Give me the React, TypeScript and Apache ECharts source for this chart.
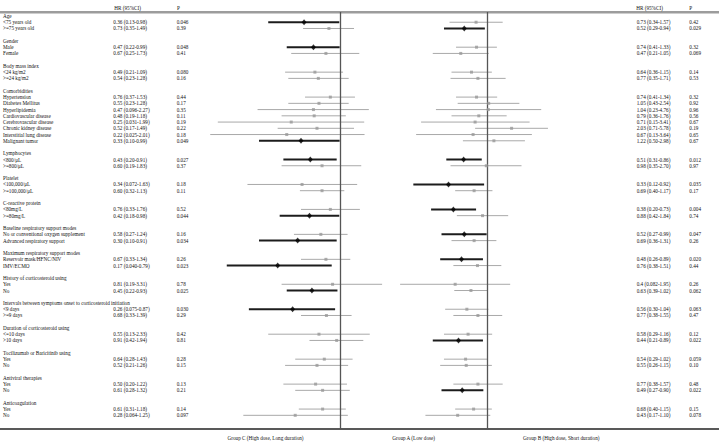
import React, { useEffect, useRef } from "react";
import * as echarts from "echarts";

const groupNames: string[] = [
  "Age",
  "Gender",
  "Body mass index",
  "Comorbidities",
  "Lymphocytes",
  "Platelet",
  "C-reactive protein",
  "Baseline respiratory support modes",
  "Maximum respiratory support modes",
  "History of corticosteroid using",
  "Intervals between symptoms onset to corticosteroid initiation",
  "Duration of corticosteroid using",
  "Tocilizumab or Baricitinib using",
  "Antiviral therapies",
  "Anticoagulation",
];

const subgroupNames: string[][] = [
  ["<75 years old", ">=75 years old"],
  ["Male", "Female"],
  ["<24 kg/m2", ">=24 kg/m2"],
  [
    "Hypertension",
    "Diabetes Mellitus",
    "Hyperlipidemia",
    "Cardiovascular disease",
    "Cerebrovascular disease",
    "Chronic kidney disease",
    "Interstitial lung disease",
    "Malignant tumor",
  ],
  ["<800/μL", ">=800/μL"],
  ["<100,000/μL", ">=100,000/μL"],
  ["<80mg/L", ">=80mg/L"],
  ["No or conventional oxygen supplement", "Advanced respiratory support"],
  ["Reservoir mask/HFNC/NIV", "IMV/ECMO"],
  ["Yes", "No"],
  ["<9 days", ">=9 days"],
  ["<=10 days", ">10 days"],
  ["Yes", "No"],
  ["Yes", "No"],
  ["Yes", "No"],
];

// Group C (High dose, Long duration) vs Group A
const groupC_HR: string[] = [
  "0.36 (0.13-0.98)", "0.73 (0.35-1.49)",
  "0.47 (0.22-0.99)", "0.67 (0.25-1.73)",
  "0.49 (0.21-1.09)", "0.54 (0.23-1.28)",
  "0.76 (0.37-1.53)", "0.55 (0.23-1.28)", "0.47 (0.096-2.27)", "0.48 (0.19-1.18)",
  "0.25 (0.031-1.99)", "0.52 (0.17-1.49)", "0.22 (0.025-2.01)", "0.33 (0.10-0.99)",
  "0.43 (0.20-0.91)", "0.60 (0.19-1.83)",
  "0.34 (0.072-1.63)", "0.60 (0.32-1.13)",
  "0.76 (0.33-1.76)", "0.42 (0.18-0.98)",
  "0.58 (0.27-1.24)", "0.30 (0.10-0.91)",
  "0.67 (0.33-1.34)", "0.17 (0.040-0.79)",
  "0.81 (0.19-3.31)", "0.45 (0.22-0.93)",
  "0.26 (0.075-0.87)", "0.68 (0.33-1.39)",
  "0.55 (0.13-2.33)", "0.91 (0.42-1.94)",
  "0.64 (0.28-1.43)", "0.52 (0.21-1.26)",
  "0.50 (0.20-1.22)", "0.61 (0.28-1.32)",
  "0.61 (0.31-1.18)", "0.28 (0.064-1.25)",
];
const groupC_P: string[] = [
  "0.046", "0.39",
  "0.048", "0.41",
  "0.080", "0.16",
  "0.44", "0.17", "0.35", "0.11", "0.19", "0.22", "0.18", "0.049",
  "0.027", "0.37",
  "0.18", "0.11",
  "0.52", "0.044",
  "0.16", "0.034",
  "0.26", "0.023",
  "0.78", "0.025",
  "0.030", "0.29",
  "0.42", "0.81",
  "0.28", "0.15",
  "0.13", "0.21",
  "0.14", "0.097",
];

// Group B (High dose, Short duration) vs Group A
const groupB_HR: string[] = [
  "0.73 (0.34-1.57)", "0.52 (0.29-0.94)",
  "0.74 (0.41-1.33)", "0.47 (0.21-1.05)",
  "0.64 (0.36-1.15)", "0.77 (0.35-1.71)",
  "0.74 (0.41-1.34)", "1.05 (0.43-2.54)", "1.04 (0.23-4.76)", "0.79 (0.36-1.76)",
  "0.71 (0.15-3.41)", "2.03 (0.71-5.78)", "0.67 (0.13-3.64)", "1.22 (0.50-2.98)",
  "0.51 (0.31-0.86)", "0.98 (0.35-2.70)",
  "0.33 (0.12-0.92)", "0.69 (0.40-1.17)",
  "0.38 (0.20-0.73)", "0.88 (0.42-1.84)",
  "0.52 (0.27-0.99)", "0.69 (0.36-1.31)",
  "0.48 (0.26-0.89)", "0.76 (0.38-1.51)",
  "0.4 (0.082-1.95)", "0.63 (0.39-1.02)",
  "0.56 (0.30-1.04)", "0.77 (0.38-1.55)",
  "0.58 (0.29-1.16)", "0.44 (0.21-0.89)",
  "0.54 (0.29-1.02)", "0.55 (0.26-1.15)",
  "0.77 (0.38-1.57)", "0.49 (0.27-0.90)",
  "0.68 (0.40-1.15)", "0.43 (0.17-1.10)",
];
const groupB_P: string[] = [
  "0.42", "0.029",
  "0.32", "0.069",
  "0.14", "0.53",
  "0.32", "0.92", "0.96", "0.56", "0.67", "0.19", "0.65", "0.67",
  "0.012", "0.97",
  "0.035", "0.17",
  "0.004", "0.74",
  "0.047", "0.26",
  "0.020", "0.44",
  "0.26", "0.062",
  "0.063", "0.47",
  "0.12", "0.022",
  "0.059", "0.10",
  "0.48", "0.022",
  "0.15", "0.078",
];

const headerHR = "HR (95%CI)";
const headerP = "P";
const groupLabels = [
  "Group C (High dose, Long duration)",
  "Group A (Low dose)",
  "Group B (High dose, Short duration)",
];

type Row = { slot: number; label: string; header: boolean; idx: number };

function buildRows(): Row[] {
  const rows: Row[] = [];
  let slot = 0;
  let k = 0;
  groupNames.forEach((g, gi) => {
    rows.push({ slot: slot++, label: g, header: true, idx: -1 });
    subgroupNames[gi].forEach((s) => {
      rows.push({ slot: slot++, label: s, header: false, idx: k++ });
    });
    slot++;
  });
  return rows;
}

function parseHR(s: string): number[] {
  const m = s.match(/^([\d.]+) \(([\d.]+)-([\d.]+)\)$/);
  if (!m) return [NaN, NaN, NaN];
  return [parseFloat(m[1]), parseFloat(m[2]), parseFloat(m[3])];
}

const FONT = "'Liberation Serif', 'Times New Roman', serif";
const FS = 5.2;
const TEXT_COLOR = "#111";

export default function App() {
  const ref = useRef<HTMLDivElement>(null);

  useEffect(() => {
    if (!ref.current) return;
    const chart = echarts.init(ref.current, null, { renderer: "svg" });
    const rows = buildRows();
    const dataRows = rows.filter((r) => !r.header);

    const yMin = -0.65;
    const yMax = 66.2;
    const gridTop = 11.94;
    const gridHeight = 417.1;

    const makeCI = (hrs: string[], ps: string[], gi: number) => ({
      type: "custom",
      xAxisIndex: gi,
      yAxisIndex: gi,
      silent: true,
      clip: false,
      encode: { x: [0, 1], y: 2 },
      data: dataRows.map((r) => {
        const v = parseHR(hrs[r.idx]);
        return [v[1], v[2], r.slot, parseFloat(ps[r.idx]) < 0.05 ? 1 : 0];
      }),
      renderItem: (_p: any, api: any) => {
        const a = api.coord([api.value(0), api.value(2)]);
        const b = api.coord([api.value(1), api.value(2)]);
        const sig = api.value(3) === 1;
        return {
          type: "line",
          shape: { x1: a[0], y1: a[1], x2: b[0], y2: b[1] },
          style: { stroke: sig ? "#1c1c1c" : "#a9a9a9", lineWidth: sig ? 2 : 1 },
        };
      },
    });

    const makePoints = (hrs: string[], ps: string[], gi: number, sig: boolean) => ({
      type: "scatter",
      xAxisIndex: gi,
      yAxisIndex: gi,
      silent: true,
      symbol: sig ? "diamond" : "rect",
      symbolSize: sig ? [5, 6] : 3,
      itemStyle: { color: sig ? "#000" : "#9a9a9a" },
      z: 5,
      data: dataRows
        .filter((r) => (parseFloat(ps[r.idx]) < 0.05) === sig)
        .map((r) => [parseHR(hrs[r.idx])[0], r.slot]),
      markLine: sig
        ? {
            silent: true,
            symbol: ["none", "none"],
            label: { show: false },
            lineStyle: { color: "#555", width: 1.3, type: "solid" },
            data: [{ xAxis: 1 }],
          }
        : undefined,
    });

    const txt = (text: string, x: number, y: number, align = "left") => ({
      type: "text",
      x,
      y,
      style: {
        text,
        fill: TEXT_COLOR,
        fontSize: FS,
        fontFamily: FONT,
        align,
        verticalAlign: "middle",
      },
    });

    const makeText = (gi: number, cols: (r: Row) => any[]) => ({
      type: "custom",
      xAxisIndex: gi,
      yAxisIndex: gi,
      silent: true,
      clip: false,
      encode: { x: 0, y: 1 },
      data: rows.map((r) => [1, r.slot]),
      renderItem: (p: any, api: any) => {
        const r = rows[p.dataIndex];
        const y = api.coord([1, api.value(1)])[1];
        return { type: "group", children: cols(r).map((c) => txt(c[0], c[1], y)) };
      },
    });

    const leftText = makeText(0, (r) =>
      r.header
        ? [[r.label, 3]]
        : [
            [r.label, 3],
            [groupC_HR[r.idx], 113.3],
            [groupC_P[r.idx], 176.7],
          ]
    );
    const rightText = makeText(1, (r) =>
      r.header
        ? []
        : [
            [groupB_HR[r.idx], 636.7],
            [groupB_P[r.idx], 689.3],
          ]
    );

    const axisHidden = {
      axisLine: { show: false },
      axisTick: { show: false },
      axisLabel: { show: false },
      splitLine: { show: false },
    };

    chart.setOption({
      animation: false,
      grid: [
        { left: 178, width: 243, top: gridTop, height: gridHeight },
        { left: 327, width: 240, top: gridTop, height: gridHeight },
      ],
      xAxis: [
        { type: "log", logBase: 10, min: 0.01, max: 10, gridIndex: 0, ...axisHidden },
        { type: "log", logBase: 10, min: 0.01, max: 10, gridIndex: 1, ...axisHidden },
      ],
      yAxis: [
        { type: "value", inverse: true, min: yMin, max: yMax, gridIndex: 0, ...axisHidden },
        { type: "value", inverse: true, min: yMin, max: yMax, gridIndex: 1, ...axisHidden },
      ],
      graphic: [
        {
          type: "line",
          shape: { x1: 0, y1: 12.2, x2: 719, y2: 12.2 },
          style: { stroke: "#9c9c9c", lineWidth: 2.4 },
          silent: true,
        },
        {
          type: "line",
          shape: { x1: 0, y1: 429, x2: 719, y2: 429 },
          style: { stroke: "#222", lineWidth: 1.5 },
          silent: true,
        },
        txt(headerHR, 114.3, 8),
        txt(headerP, 177, 8),
        txt(headerHR, 636.2, 8),
        txt(headerP, 689.3, 8),
        txt(groupLabels[0], 265.5, 438, "center"),
        txt(groupLabels[1], 413.7, 438, "center"),
        txt(groupLabels[2], 561.3, 438, "center"),
      ],
      series: [
        makeCI(groupC_HR, groupC_P, 0),
        makeCI(groupB_HR, groupB_P, 1),
        makePoints(groupC_HR, groupC_P, 0, false),
        makePoints(groupC_HR, groupC_P, 0, true),
        makePoints(groupB_HR, groupB_P, 1, false),
        makePoints(groupB_HR, groupB_P, 1, true),
        leftText,
        rightText,
      ],
    });

    return () => chart.dispose();
  }, []);

  return (
    <div
      ref={ref}
      style={{ position: "absolute", left: 0, top: 0, width: 719, height: 442, background: "#fff" }}
    />
  );
}
